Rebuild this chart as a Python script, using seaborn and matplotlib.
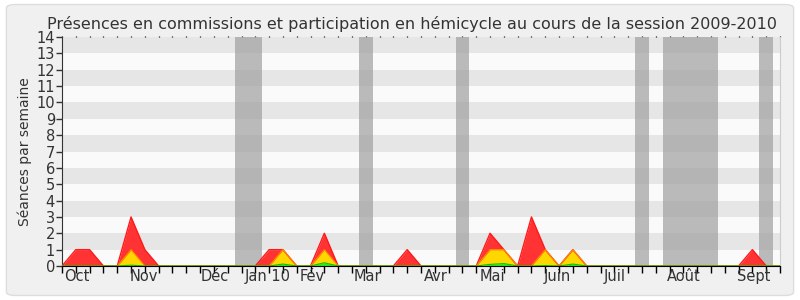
import numpy as np
import pandas as pd
import matplotlib
matplotlib.use("Agg")
import matplotlib.pyplot as plt
from matplotlib.patches import FancyBboxPatch
import seaborn as sns

# ---- data (weekly, 53 points) ----
weeks = list(range(53))
presences = [0, 1, 1, 0, 0, 3, 1, 0, 0, 0, 0, 0, 0, 0, 0, 1, 1, 0, 0, 2,
             0, 0, 0, 0, 0, 1, 0, 0, 0, 0, 0, 2, 1, 0, 3, 1, 0, 1, 0, 0,
             0, 0, 0, 0, 0, 0, 0, 0, 0, 0, 1, 0, 0]
interventions = [0, 0, 0, 0, 0, 1, 0, 0, 0, 0, 0, 0, 0, 0, 0, 0, 1, 0, 0, 1,
                 0, 0, 0, 0, 0, 0, 0, 0, 0, 0, 0, 1, 1, 0, 0, 1, 0, 1, 0, 0,
                 0, 0, 0, 0, 0, 0, 0, 0, 0, 0, 0, 0, 0]
questions = [0, 0, 0, 0, 0, 0.05, 0, 0, 0, 0, 0, 0, 0, 0, 0, 0, 0.12, 0, 0, 0.2,
             0, 0, 0, 0, 0, 0, 0, 0, 0, 0, 0, 0.1, 0.15, 0, 0, 0.03, 0, 0.12, 0, 0,
             0, 0, 0, 0, 0, 0, 0, 0, 0, 0, 0, 0, 0]
vacation_weeks = [13, 14, 22, 29, 42, 44, 45, 46, 47, 51]
month_labels = ["Oct", "Nov", "Déc", "Jan 10", "Fév", "Mar", "Avr", "Mai",
                "Juin", "Juil", "Août", "Sept"]
month_pos = [1.1, 5.9, 11.05, 14.9, 18.1, 22.1, 27.05, 31.2, 35.9, 40.05, 45.05, 50.1]

df = pd.DataFrame({"week": weeks, "presences": presences,
                   "interventions": interventions, "questions": questions})

sns.set_style("white")
plt.rcParams['font.family'] = ['DejaVu Sans']

fig = plt.figure(figsize=(8, 3), dpi=100, facecolor="white")
bg = FancyBboxPatch((0.008, 0.015), 0.984, 0.97, boxstyle="round,pad=0,rounding_size=0.012",
                    transform=fig.transFigure, facecolor="#f0f0f0", edgecolor="#dddddd",
                    linewidth=1.0, zorder=-10)
fig.patches.append(bg)

ax = fig.add_axes([0.0775, 0.1133, 0.8975, 0.7634])
ax.set_facecolor("#fafafa")

# horizontal stripes
for y0 in range(1, 14, 2):
    ax.axhspan(y0, y0 + 1, color="#e6e6e6", zorder=0, lw=0)

# vacation bands
for w in vacation_weeks:
    ax.axvspan(w - 0.5, w + 0.5, color="#a0a0a0", alpha=0.7, zorder=1, lw=0)

x = df["week"].values
ax.fill_between(x, df["presences"], color="#ff3333", zorder=2, lw=0)
ax.fill_between(x, df["interventions"], color="#ffd700", zorder=3, lw=0)
ax.fill_between(x, df["questions"], color="#22ee22", zorder=4, lw=0)
sns.lineplot(data=df, x="week", y="presences", ax=ax, color="#ff1a1a", lw=1, zorder=5)
sns.lineplot(data=df, x="week", y="interventions", ax=ax, color="#ff8c00", lw=0.8, zorder=6)
sns.lineplot(data=df, x="week", y="questions", ax=ax, color="#10c010", lw=0.8, zorder=7)

ax.set_xlim(0, 52)
ax.set_ylim(0, 14)
ax.set_yticks(range(0, 15))
ax.set_xticks(range(0, 53))
ax.set_xticklabels([])
ax.set_xticks(month_pos, minor=True)
ax.set_xticklabels(month_labels, minor=True)
ax.tick_params(axis="x", which="major", direction="out", length=5, width=1,
               color="#000000", bottom=True, top=True)
ax.tick_params(axis="x", which="minor", length=0, labelsize=10.5, labelcolor="#333333", pad=2)
ax.tick_params(axis="y", direction="out", length=4, width=1, color="#333333",
               labelsize=10.5, labelcolor="#333333", left=True, pad=1)
for t in ax.xaxis.get_major_ticks():
    t.tick2line.set_markersize(1.0)
    t.tick2line.set_markeredgewidth(0.9)

ax.set_xlabel("")
ax.set_ylabel("Séances par semaine", fontsize=10, color="#333333", labelpad=3)
ax.set_title("Présences en commissions et participation en hémicycle au cours de la session 2009-2010",
             fontsize=11.5, color="#333333", pad=6, x=0.4875)

ax.spines["top"].set_visible(False)
ax.spines["right"].set_color("#cccccc")
ax.spines["left"].set_color("#333333")
ax.spines["bottom"].set_color("#000000")
ax.spines["bottom"].set_zorder(10)

fig.savefig("out.png", dpi=100, facecolor="white")
